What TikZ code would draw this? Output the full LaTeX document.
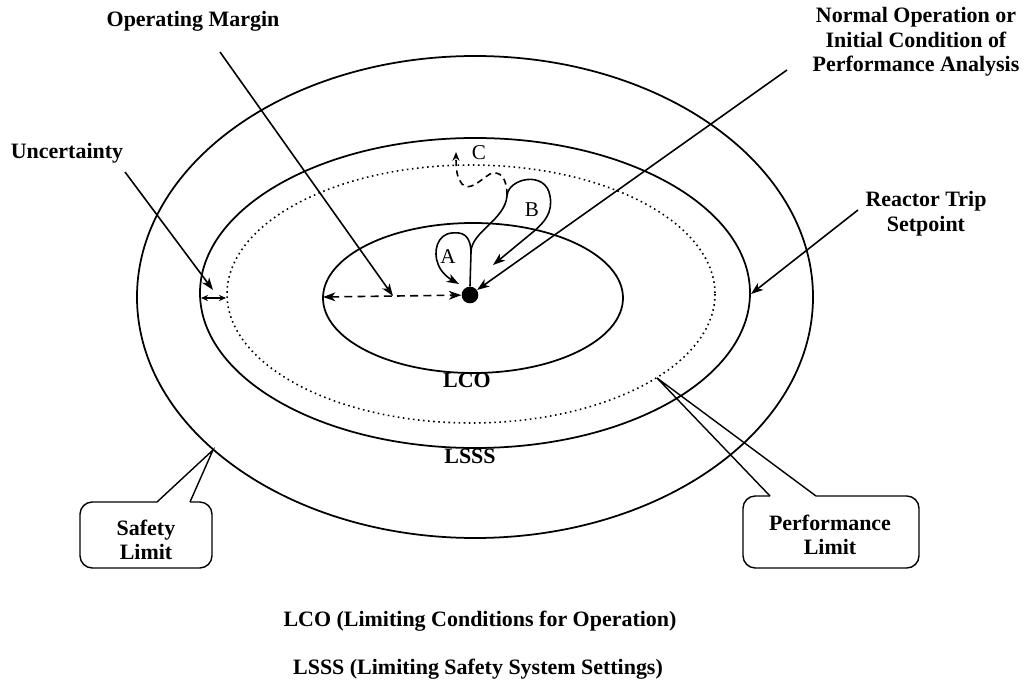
\documentclass[tikz,border=0pt]{standalone}
\usepackage{fontspec}
\setmainfont{Liberation Serif}
\usetikzlibrary{arrows.meta}

\begin{document}
\begin{tikzpicture}[x=0.02cm,y=-0.02cm,
        lbl/.style={font=\fontsize{12.5}{14}\selectfont\bfseries,align=center,inner sep=0pt},
        tag/.style={font=\fontsize{12}{13}\selectfont,inner sep=0pt},
        >={Stealth[length=7pt,width=5pt,inset=2pt]}]
        \useasboundingbox (0,0) rectangle (1029,686);
        \draw[line width=1pt] (475,297) ellipse [x radius=338,y radius=241];
        \draw[line width=1pt] (475,293) ellipse [x radius=275,y radius=155];
        \draw[line width=0.9pt,dotted] (471,294) ellipse [x radius=244,y radius=129];
        \draw[line width=1pt] (473,298) ellipse [x radius=150,y radius=75];
        \node[circle,fill,inner sep=0pt,minimum size=9.5pt] (dot) at (470,295) {};
        \node[lbl] (lco) at (467,380) {LCO};
        \node[lbl] (lsss) at (470,456) {LSSS};
        \node[lbl] (margin) at (193,21) {Operating Margin};
        \node[lbl] (normal) at (916,42) {Normal Operation or\\Initial Condition of\\Performance Analysis};
        \node[lbl] (uncert) at (67,153) {Uncertainty};
        \node[lbl] (trip) at (926,214) {Reactor Trip\\Setpoint};
        \node[lbl] (safety) at (146,540) {Safety\\Limit};
        \node[lbl] (perf) at (830,535) {Performance\\Limit};
        \node[lbl] (legend1) at (480,621) {LCO (Limiting Conditions for Operation)};
        \node[lbl] (legend2) at (478,669) {LSSS (Limiting Safety System Settings)};
        \coordinate (margin-s) at (220,52);
        \coordinate (margin-e) at (393,296);
        \coordinate (normal-s) at (787,70);
        \coordinate (uncert-s) at (125,172);
        \coordinate (uncert-e) at (213,290);
        \coordinate (trip-s) at (858,210);
        \coordinate (trip-e) at (751,294);
        \coordinate (lco-w) at (323,297);
        \coordinate (safety-tip) at (213,450);
        \coordinate (perf-tip) at (657,378);
        \draw[line width=0.9pt,->] (margin-s) -- (margin-e);
        \draw[line width=0.9pt,dashed,dash pattern=on 4.5pt off 3pt,<->] (lco-w) -- (dot);
        \draw[line width=0.9pt,->] (normal-s) -- (dot);
        \draw[line width=0.9pt,->] (trip-s) -- (trip-e);
        \draw[line width=0.9pt,->] (uncert-s) -- (uncert-e);
        \draw[line width=0.9pt,<->,>={Stealth[length=4pt,width=3.5pt]}] (201,298) -- (226,298);
        \draw[line width=0.9pt,->] (dot.north) -- (471,252) .. controls (471,232) and (505,220) .. (507,196)
            .. controls (508,178) and (546,170) .. (550,196) .. controls (553,212) and (545,222) .. (533,232) -- (493,265);
        \draw[line width=0.9pt,->] (471,254) .. controls (471,234) and (462,232) .. (452,233)
            .. controls (437,234) and (433,252) .. (438,264) .. controls (441,273) and (450,279) .. (459,284);
        \draw[line width=0.9pt,dashed,dash pattern=on 3.5pt off 2.5pt,-{Stealth[length=5pt,width=4pt]}] (507,195) .. controls (507,178) and (500,170) .. (490,174)
            .. controls (480,180) and (470,192) .. (462,184) .. controls (457,178) and (456,170) .. (456,152);
        \node[tag] (a) at (448,257) {A};
        \node[tag] (b) at (532,210) {B};
        \node[tag] (c) at (479,153) {C};
        \draw[line width=0.8pt,rounded corners=7pt] (157,502) -- (80,502) -- (80,568) -- (212,568) -- (212,502) -- (190,502);
        \draw[line width=0.8pt] (157,502) -- (safety-tip) -- (190,502);
        \draw[line width=0.8pt,rounded corners=7pt] (770,496) -- (743,496) -- (743,568) -- (919,568) -- (919,496) -- (816,496);
        \draw[line width=0.8pt] (770,496) -- (perf-tip) -- (816,496);
    \end{tikzpicture}
\end{document}
